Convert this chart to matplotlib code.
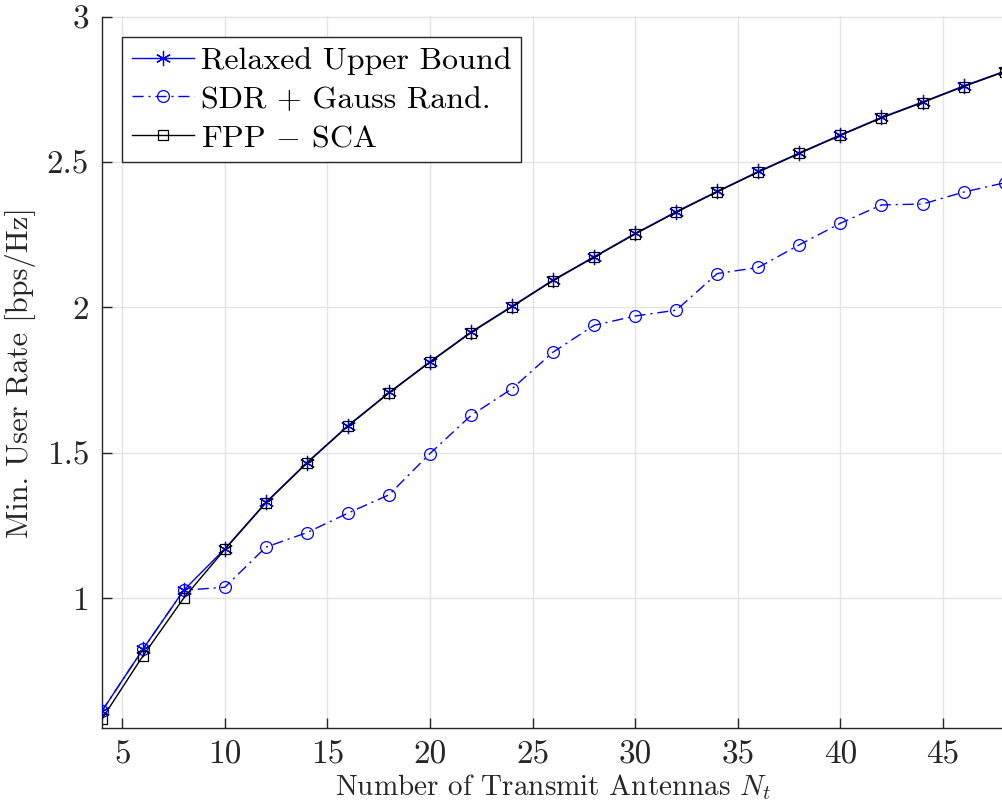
import numpy as np
import matplotlib
matplotlib.use("Agg")
import matplotlib.pyplot as plt

# ---- data ----
n_tx = [4, 6, 8, 10, 12, 14, 16, 18, 20, 22, 24, 26, 28, 30, 32, 34, 36, 38, 40, 42, 44, 46, 48]
relaxed = [0.610, 0.823, 1.027, 1.169, 1.329, 1.466, 1.593, 1.707, 1.813, 1.915, 2.004, 2.094,
           2.174, 2.254, 2.329, 2.399, 2.467, 2.531, 2.593, 2.653, 2.706, 2.761, 2.812]
sdr = [0.610, 0.823, 1.027, 1.037, 1.175, 1.225, 1.292, 1.355, 1.497, 1.628, 1.720, 1.846,
       1.938, 1.970, 1.990, 2.116, 2.137, 2.215, 2.289, 2.352, 2.355, 2.396, 2.428]
fpp = [0.583, 0.800, 1.000, 1.167, 1.327, 1.464, 1.591, 1.705, 1.811, 1.913, 2.002, 2.092,
       2.172, 2.252, 2.327, 2.397, 2.465, 2.529, 2.591, 2.651, 2.704, 2.759, 2.810]
labels = ["Relaxed Upper Bound", "SDR + Gauss Rand.", "FPP $-$ SCA"]
xticks = [5, 10, 15, 20, 25, 30, 35, 40, 45]
yticks = [1, 1.5, 2, 2.5, 3]
yticklabels = ["1", "1.5", "2", "2.5", "3"]

plt.rcParams['font.family'] = 'cmr10'
plt.rcParams['mathtext.fontset'] = 'cm'
plt.rcParams['axes.formatter.use_mathtext'] = True

dark = (0.15, 0.15, 0.15)
fig = plt.figure(figsize=(10.02, 8.05), dpi=100)
ax = fig.add_axes([101.7 / 1002, 77 / 805, 902.9 / 1002, 711.5 / 805])

asterisk = (6, 2, 0)
ax.plot(n_tx, relaxed, color=(0, 0, 1), lw=1.0, marker=asterisk, ms=11, mew=0.9,
        label=labels[0], zorder=3)
ax.plot(n_tx, sdr, color=(0, 0, 1), lw=1.0, ls=(0, (8, 3.5, 1.5, 3.5)), marker='o', ms=8.5, mew=0.9,
        mfc='none', label=labels[1], zorder=3)
ax.plot(n_tx, fpp, color='black', lw=1.0, marker='s', ms=6.5, mew=0.9,
        mfc='none', label=labels[2], zorder=3)

ax.set_xlim(4, 48)
ax.set_ylim(0.553, 3)
ax.set_xticks(xticks)
ax.set_xticklabels([str(t) for t in xticks])
ax.set_yticks(yticks)
ax.set_yticklabels(yticklabels)

ax.grid(True, color=(0.89, 0.89, 0.89), lw=1.0)
ax.set_axisbelow(True)
for s in ['top', 'right']:
    ax.spines[s].set_visible(False)
for s in ['left', 'bottom']:
    ax.spines[s].set_color(dark)
    ax.spines[s].set_linewidth(1.0)
ax.tick_params(direction='in', length=7, width=1.0, colors=dark,
               labelsize=24, labelcolor=dark, pad=9)

ax.set_xlabel("Number of Transmit Antennas $N_t$", fontsize=21,
              color=dark, labelpad=2)
ax.set_ylabel("Min. User Rate [bps/Hz]", fontsize=22,
              color=dark, labelpad=8)

leg = ax.legend(loc='upper left', bbox_to_anchor=(0.0225, 0.971), fontsize=23,
                frameon=True, fancybox=False, framealpha=1, edgecolor=dark,
                borderpad=0.3, labelspacing=0.32, handlelength=1.95, handletextpad=0.22,
                borderaxespad=0)
leg.get_frame().set_linewidth(1.0)

fig.savefig("out.png", dpi=100)
